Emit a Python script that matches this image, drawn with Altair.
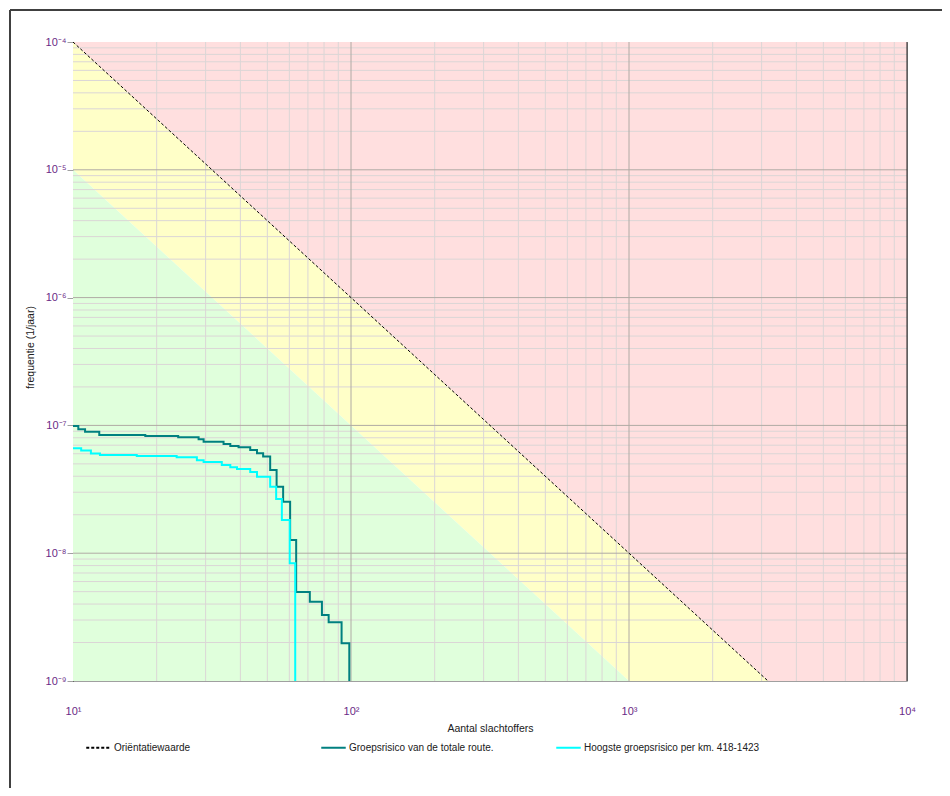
import altair as alt
import pandas as pd

# ---- data ----
SERIES = ["Oriëntatiewaarde", "Groepsrisico van de totale route.", "Hoogste groepsrisico per km. 418-1423"]

N_TOTAL = [10, 10.45, 11.05, 12.43, 18.2, 23.9, 28.3, 29.5, 34.8, 36.8, 39.4, 43.4, 45.9, 48.3,
           51.2, 54.0, 57.0, 60.4, 63.5, 71.1, 78.6, 83.1, 92.5, 98.6]
F_TOTAL = [9.9e-8, 9.32e-8, 8.93e-8, 8.41e-8, 8.26e-8, 8.07e-8, 7.78e-8, 7.46e-8, 7.15e-8, 6.90e-8,
           6.74e-8, 6.42e-8, 6.05e-8, 5.71e-8, 4.48e-8, 3.31e-8, 2.53e-8, 1.27e-8, 4.97e-9, 4.17e-9,
           3.28e-9, 2.88e-9, 1.97e-9, 1e-9]

N_MAX = [10, 10.7, 11.6, 12.5, 16.96, 23.6, 27.9, 29.5, 34.3, 36.8, 38.9, 43.4, 45.9, 51.2, 53.8,
         56.4, 60.2, 63.0]
F_MAX = [6.62e-8, 6.36e-8, 6.03e-8, 5.87e-8, 5.76e-8, 5.63e-8, 5.33e-8, 5.17e-8, 4.90e-8, 4.70e-8,
         4.56e-8, 4.32e-8, 3.97e-8, 3.31e-8, 2.65e-8, 1.82e-8, 8.34e-9, 1e-9]

# orientation value boundaries (straight lines on log-log axes)
BOUND_N = [10, 10000]
BOUND_ORIENT = [1e-4, 1e-10]   # orientatiewaarde
BOUND_LOWER = [1e-5, 1e-11]    # factor 10 lower
BOUND_TOP = [1e-4, 1e-4]
BOUND_BOTTOM = [1e-12, 1e-12]

X_DOMAIN = [10, 10000]
Y_DOMAIN = [1e-9, 1e-4]
X_TICKS = [10, 100, 1000, 10000]
X_TICK_LABELS = ["10¹", "10²", "10³", "10⁴"]
Y_TICKS = [1e-9, 1e-8, 1e-7, 1e-6, 1e-5, 1e-4]
Y_TICK_LABELS = ["10⁻⁹", "10⁻⁸", "10⁻⁷", "10⁻⁶", "10⁻⁵", "10⁻⁴"]
Y_EXPONENTS = [-9, -8, -7, -6, -5, -4]
X_EXPONENTS = [1, 2, 3, 4]

GRID_MULT = [2, 3, 4, 5, 6, 7, 8, 9]
X_DECADES = [10, 100, 1000]
Y_DECADES = [1e-9, 1e-8, 1e-7, 1e-6, 1e-5]
X_MAJOR = [100, 1000]
Y_MAJOR = [1e-8, 1e-7, 1e-6, 1e-5]

FONT = "Liberation Sans Narrow, Arial Narrow, Liberation Sans, Arial"
W, H = 834, 639

xs = alt.Scale(type="log", domain=X_DOMAIN, nice=False)
ys = alt.Scale(type="log", domain=Y_DOMAIN, nice=False)
cscale = alt.Scale(domain=SERIES, range=["#000000", "#008080", "#00ffff"])
dscale = alt.Scale(domain=SERIES, range=[[3, 2], [1, 0], [1, 0]])


def expr(exps, labels):
    e = "round(log(datum.value)/LN10)"
    s = "''"
    for k, lab in zip(exps, labels):
        s = f"{e} == {k} ? '{lab}' : ({s})"
    return s


bounds = pd.DataFrame({"N": BOUND_N, "orient": BOUND_ORIENT, "lower": BOUND_LOWER,
                       "top": BOUND_TOP, "bottom": BOUND_BOTTOM})

red = alt.Chart(bounds).mark_area(color="#ffdfdf", clip=True).encode(
    x=alt.X("N:Q", scale=xs,
            axis=alt.Axis(values=X_TICKS, labelExpr=expr(X_EXPONENTS, X_TICK_LABELS), grid=False,
                          ticks=False, domain=False, labelPadding=24, labelFlush=False,
                          labelFont=FONT, labelFontSize=11,
                          labelColor="#6a2a86", title="Aantal slachtoffers", titleFont=FONT,
                          titleFontSize=10.5, titleFontWeight="normal", titleColor="#202020",
                          titleY=47, titleBaseline="middle")),
    y=alt.Y("orient:Q", scale=ys,
            axis=alt.Axis(values=Y_TICKS, labelExpr=expr(Y_EXPONENTS, Y_TICK_LABELS), grid=False,
                          tickSize=6, tickColor="#a0a0a0", domainColor="#202020", labelPadding=1,
                          labelFlush=False,
                          labelFont=FONT, labelFontSize=11, labelColor="#6a2a86",
                          title="frequentie (1/jaar)", titleFont=FONT, titleFontSize=10.5,
                          titleFontWeight="normal", titleColor="#202020", titleX=-43,
                          titleY=305, titleBaseline="middle", titleAngle=270)),
    y2="top:Q",
)
yellow = alt.Chart(bounds).mark_area(color="#ffffc8", clip=True).encode(
    x=alt.X("N:Q", scale=xs), y=alt.Y("lower:Q", scale=ys), y2="orient:Q")
green = alt.Chart(bounds).mark_area(color="#e0ffdc", clip=True).encode(
    x=alt.X("N:Q", scale=xs), y=alt.Y("bottom:Q", scale=ys), y2="lower:Q")

x_minor = pd.DataFrame({"v": [m * d for d in X_DECADES for m in GRID_MULT]})
y_minor = pd.DataFrame({"v": [m * d for d in Y_DECADES for m in GRID_MULT]})
x_major = pd.DataFrame({"v": X_MAJOR})
y_major = pd.DataFrame({"v": Y_MAJOR})

gx_minor = alt.Chart(x_minor).mark_rule(color="#dbd6d6", strokeWidth=1).encode(x=alt.X("v:Q", scale=xs))
gy_minor = alt.Chart(y_minor).mark_rule(color="#dbd6d6", strokeWidth=1).encode(y=alt.Y("v:Q", scale=ys))
gx_major = alt.Chart(x_major).mark_rule(color="#b0aaa4", strokeWidth=1).encode(x=alt.X("v:Q", scale=xs))
gy_major = alt.Chart(y_major).mark_rule(color="#b0aaa4", strokeWidth=1).encode(y=alt.Y("v:Q", scale=ys))

leg = alt.Legend(orient="none", legendX=12, legendY=692, direction="horizontal", columns=3,
                 gridAlign="all", columnPadding=27, symbolType="stroke", symbolSize=600,
                 symbolStrokeWidth=2, labelFont=FONT, labelFontSize=10, labelColor="#202020",
                 labelOffset=2, labelLimit=400, title=None)

orient_df = pd.DataFrame({"N": BOUND_N, "F": BOUND_ORIENT, "series": [SERIES[0]] * 2})
orient = alt.Chart(orient_df).mark_line(strokeWidth=1, clip=True).encode(
    x=alt.X("N:Q", scale=xs), y=alt.Y("F:Q", scale=ys),
    color=alt.Color("series:N", scale=cscale, legend=leg),
    strokeDash=alt.StrokeDash("series:N", scale=dscale, legend=leg),
)

curves_df = pd.concat([
    pd.DataFrame({"N": N_TOTAL, "F": F_TOTAL, "series": SERIES[1], "o": 0}),
    pd.DataFrame({"N": N_MAX, "F": F_MAX, "series": SERIES[2], "o": 1}),
])
curves = alt.Chart(curves_df).mark_line(interpolate="step-after", strokeWidth=2, clip=True).encode(
    x=alt.X("N:Q", scale=xs), y=alt.Y("F:Q", scale=ys),
    color=alt.Color("series:N", scale=cscale, legend=leg),
    strokeDash=alt.StrokeDash("series:N", scale=dscale, legend=leg),
    detail="series:N",
    order=alt.Order("o:Q"),
)

right_edge = alt.Chart().mark_rule(color="#202020").encode(
    x=alt.value(W), y=alt.value(0), y2=alt.value(H))
frame_left = alt.Chart().mark_rule(color="#404040", strokeWidth=2).encode(
    x=alt.value(-63), y=alt.value(-32), y2=alt.value(800))
frame_top = alt.Chart().mark_rule(color="#404040", strokeWidth=2).encode(
    x=alt.value(-63), x2=alt.value(900), y=alt.value(-32))

chart = alt.layer(
    red, yellow, green, gx_minor, gy_minor, gx_major, gy_major, orient, curves,
    right_edge, frame_left, frame_top,
).properties(
    width=W, height=H, autosize=alt.AutoSizeParams(type="none"),
    padding={"left": 65, "top": 34, "right": 35, "bottom": 107},
    background="white",
).configure_view(stroke="#a0a0a0")

chart.save("out.html", embed_options={"renderer": "svg", "actions": False})
